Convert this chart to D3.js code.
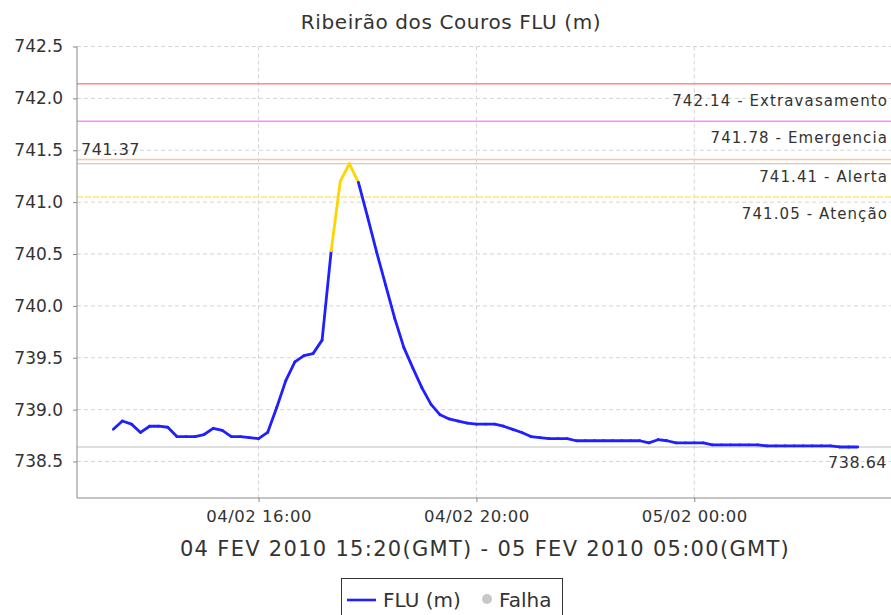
<!DOCTYPE html>
<html>
<head>
<meta charset="utf-8">
<script src="https://cdn.jsdelivr.net/npm/d3@7"></script>
<style>
  body { margin: 0; background: #fff; }
  text { font-family: "DejaVu Sans", sans-serif; fill: #333; }
</style>
</head>
<body>
<div id="root"></div>
<script>
// FLU readings every 10 min, local time (GMT-2), 04/02 13:20 -> 05/02 03:00
var startTime = "2010-02-04 13:20";
var stepMinutes = 10;
var levels = [
  738.81, 738.89, 738.86, 738.78, 738.84, 738.84, 738.83, 738.74, 738.74, 738.74,
  738.76, 738.82, 738.80, 738.74, 738.74, 738.73, 738.72, 738.78, 739.02, 739.28,
  739.46, 739.52, 739.54, 739.67, 740.53, 741.20, 741.37, 741.19, 740.86, 740.52,
  740.20, 739.88, 739.60, 739.40, 739.21, 739.05, 738.95, 738.91, 738.89, 738.87,
  738.86, 738.86, 738.86, 738.84, 738.81, 738.78, 738.74, 738.73, 738.72, 738.72,
  738.72, 738.70, 738.70, 738.70, 738.70, 738.70, 738.70, 738.70, 738.70, 738.68,
  738.71, 738.70, 738.68, 738.68, 738.68, 738.68, 738.66, 738.66, 738.66, 738.66,
  738.66, 738.66, 738.65, 738.65, 738.65, 738.65, 738.65, 738.65, 738.65, 738.65,
  738.64, 738.64, 738.64
];

var thresholdValues = [742.14, 741.78, 741.41, 741.05];
var thresholdNames  = ["Extravasamento", "Emergencia", "Alerta", "Atenção"];
var thresholdColors = ["#ff8c8c", "#ff8cff", "#ffc890", "#ffe870"];

var yTicks = [738.5, 739.0, 739.5, 740.0, 740.5, 741.0, 741.5, 742.0, 742.5];
var xDomain = ["2010-02-04 12:40", "2010-02-05 03:40"];

var title = "Ribeirão dos Couros FLU (m)";
var subtitle = "04 FEV 2010 15:20(GMT) - 05 FEV 2010 05:00(GMT)";

var parse = d3.utcParse("%Y-%m-%d %H:%M");
var t0 = parse(startTime);
var data = levels.map(function (v, i) {
  return { t: d3.utcMinute.offset(t0, i * stepMinutes), v: v };
});

var width = 891, height = 615;
var plotLeft = 77, plotRight = 894, plotTop = 46.5, plotBottom = 498;

var svg = d3.select("#root").append("svg")
  .attr("width", width).attr("height", height);

svg.append("rect").attr("width", width).attr("height", height).attr("fill", "#fff");

var x = d3.scaleUtc()
  .domain(xDomain.map(parse))
  .range([plotLeft, plotRight]);

var y = d3.scaleLinear()
  .domain([738.5, 742.5])
  .range([461.5, plotTop]);

// gridlines
var grid = svg.append("g");
grid.selectAll("line.h").data(yTicks).enter().append("line")
  .attr("x1", plotLeft).attr("x2", width)
  .attr("y1", function (d) { return y(d); }).attr("y2", function (d) { return y(d); })
  .attr("stroke", "#d4d4d4").attr("stroke-dasharray", "4,3");

var xTicks = x.ticks(d3.utcHour.every(4));
grid.selectAll("line.v").data(xTicks).enter().append("line")
  .attr("y1", plotTop).attr("y2", plotBottom)
  .attr("x1", function (d) { return x(d); }).attr("x2", function (d) { return x(d); })
  .attr("stroke", "#d4d4d4").attr("stroke-dasharray", "4,3");

// threshold lines
var thr = svg.append("g");
thresholdValues.forEach(function (v, i) {
  thr.append("line")
    .attr("x1", plotLeft).attr("x2", width)
    .attr("y1", y(v)).attr("y2", y(v))
    .attr("stroke", thresholdColors[i]).attr("stroke-width", 1.5)
    .attr("stroke-dasharray", i == 3 ? "6,2" : null);
  thr.append("text")
    .attr("x", 888).attr("y", y(v) + 22)
    .attr("text-anchor", "end")
    .attr("font-size", 15).attr("letter-spacing", 1.1)
    .text(v.toFixed(2) + " - " + thresholdNames[i]);
});

// max / min markers
var vmax = d3.max(levels), vmin = d3.min(levels);
[vmax, vmin].forEach(function (v) {
  thr.append("line")
    .attr("x1", plotLeft).attr("x2", width)
    .attr("y1", y(v)).attr("y2", y(v))
    .attr("stroke", "#bdbdbd").attr("stroke-width", 1.2);
});
thr.append("text").attr("x", 81).attr("y", y(vmax) - 9)
  .attr("font-size", 16).attr("letter-spacing", 0.5).text(vmax.toFixed(2));
thr.append("text").attr("x", 887).attr("y", y(vmin) + 21)
  .attr("text-anchor", "end")
  .attr("font-size", 16).attr("letter-spacing", 0.5).text(vmin.toFixed(2));

// series, segment colour follows the level reached at the segment end
var line = d3.line().x(function (d) { return x(d.t); }).y(function (d) { return y(d.v); });
var segs = d3.pairs(data);
svg.append("g").selectAll("path").data(segs).enter().append("path")
  .attr("d", function (p) { return line(p); })
  .attr("fill", "none")
  .attr("stroke", function (p) { return p[1].v >= thresholdValues[3] ? "#ffd400" : "#2020ff"; })
  .attr("stroke-width", 2.8)
  .attr("stroke-linecap", "round");

// axes
var yAxis = d3.axisLeft(y).tickValues(yTicks).tickFormat(d3.format(".1f")).tickSize(4).tickPadding(10);
var gy = svg.append("g").attr("transform", "translate(" + plotLeft + ",0)").call(yAxis);
gy.select(".domain").attr("d", "M0," + plotTop + "V" + plotBottom).attr("stroke", "#888");
gy.selectAll(".tick line").attr("stroke", "#888");
gy.selectAll(".tick text").attr("font-size", 17).attr("font-family", "DejaVu Sans").attr("fill", "#333");

var xAxis = d3.axisBottom(x).tickValues(xTicks).tickFormat(d3.utcFormat("%d/%m %H:%M")).tickSize(4).tickPadding(8);
var gx = svg.append("g").attr("transform", "translate(0," + plotBottom + ")").call(xAxis);
gx.select(".domain").attr("d", "M" + plotLeft + ",0H" + width).attr("stroke", "#888");
gx.selectAll(".tick line").attr("stroke", "#888");
gx.selectAll(".tick text").attr("font-size", 16.5).attr("letter-spacing", 0.5)
  .attr("font-family", "DejaVu Sans").attr("fill", "#222");

// titles
svg.append("text").attr("x", 451).attr("y", 29).attr("text-anchor", "middle")
  .attr("font-size", 20).attr("letter-spacing", 0.6).attr("fill", "#222").text(title);
svg.append("text").attr("x", 485).attr("y", 556).attr("text-anchor", "middle")
  .attr("font-size", 21).attr("letter-spacing", 1.3).attr("fill", "#222").text(subtitle);

// legend
var lg = svg.append("g");
lg.append("rect").attr("x", 341.5).attr("y", 578.5).attr("width", 221).attr("height", 45)
  .attr("fill", "#fff").attr("stroke", "#333");
lg.append("line").attr("x1", 347).attr("x2", 376).attr("y1", 600).attr("y2", 600)
  .attr("stroke", "#2020ff").attr("stroke-width", 2.6);
lg.append("text").attr("x", 383).attr("y", 607).attr("font-size", 20).attr("fill", "#222").text("FLU (m)");
lg.append("circle").attr("cx", 487).attr("cy", 599).attr("r", 5).attr("fill", "#c8c8c8");
lg.append("text").attr("x", 499).attr("y", 607).attr("font-size", 20).attr("fill", "#222").text("Falha");
</script>
</body>
</html>
